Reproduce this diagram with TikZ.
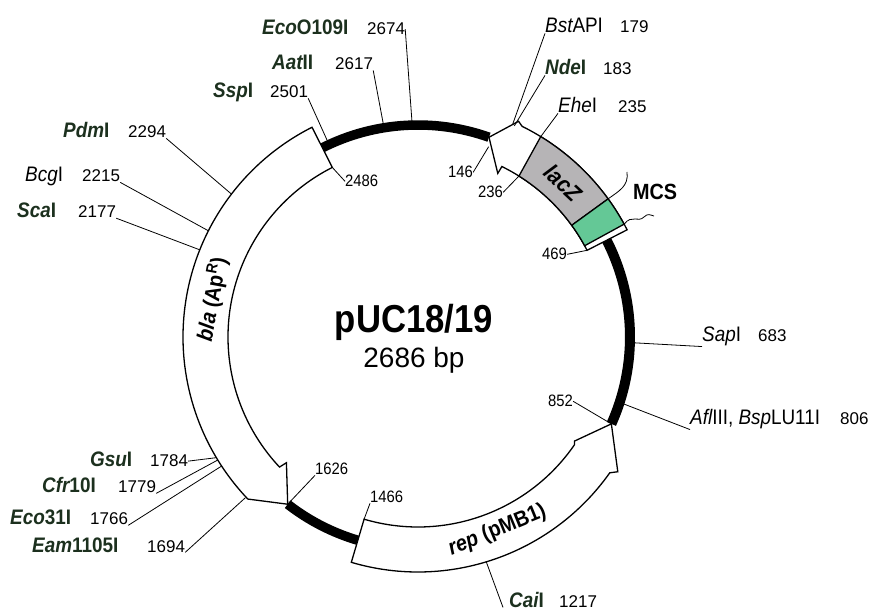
\documentclass[tikz,border=0pt]{standalone}
\usepackage{fontspec}
\setmainfont{Liberation Sans}
\newfontfamily\cond[FakeStretch=0.9]{Liberation Sans}
\newfontfamily\condb[FakeStretch=0.89]{Liberation Sans}
\definecolor{dkgreen}{RGB}{28,48,30}
\definecolor{laczgray}{RGB}{182,180,182}
\definecolor{mcsgreen}{RGB}{100,200,150}
\newcommand\bnm[2]{\textcolor{dkgreen}{\bfseries{\itshape #1}#2}}
\newcommand\rnm[2]{{\itshape #1}#2}
\begin{document}
\begin{tikzpicture}[x=1pt,y=1pt,
  declare function={ang(\p)=90-\p/2686*360; px(\x)=\x-418; py(\y)=337-\y;},
  ename/.style={font=\cond\fontsize{21}{21}\selectfont, anchor=base west, inner sep=0pt},
  enum/.style={font=\fontsize{17}{17}\selectfont, anchor=base west, inner sep=0pt},
  posl/.style={font=\cond\fontsize{16.5}{16.5}\selectfont, anchor=base west, inner sep=0pt},
  lead/.style={line width=0.8pt},
  band/.style={draw, line width=1.3pt, fill=white, line join=miter},
  bb/.style={line width=9.5pt},
  genelab/.style={font=\cond\bfseries\fontsize{22}{22}\selectfont, inner sep=0pt},
]
\useasboundingbox (-418,337) rectangle (455,-278);
\fill[white] (-418,337) rectangle (455,-278);
\def\Rb{212}\def\Ri{190}\def\Ro{235}
\pgfmathsetmacro\tA{ang(146)}
\pgfmathsetmacro\tB{ang(469)}
\pgfmathsetmacro\tC{ang(852)}
\pgfmathsetmacro\tD{ang(1466)}
\pgfmathsetmacro\tDD{ang(1466)+360}
\pgfmathsetmacro\tE{ang(1626)+360}
\pgfmathsetmacro\tF{ang(2486)+360}
\pgfmathsetmacro\tG{ang(235)}
% backbone
\draw[bb] (\tA:\Rb) arc[start angle=\tA, end angle=\tF, radius=212pt];
\draw[bb, line width=10pt] (\tC:\Rb) arc[start angle=\tC, end angle=\tB, radius=212pt];
\draw[bb] (\tE:\Rb) arc[start angle=\tE, end angle=\tDD, radius=212pt];
% bla arrow
\draw[band] (\tF:\Ro) arc[start angle=\tF, end angle=223.6, radius=235pt]
  -- (\tE:\Rb) -- (223.7:182) -- (223.2:\Ri)
  arc[start angle=223.2, end angle=\tF, radius=190pt] -- cycle;
% rep arrow
\draw[band] (\tD:\Ro) arc[start angle=\tD, end angle=-35.3, radius=235pt]
  -- (-34.0:241) -- (\tC:\Rb) -- (-33.6:188) -- (-34.6:\Ri)
  arc[start angle=-34.6, end angle=\tD, radius=190pt] -- cycle;
% lacZ
\draw[band] (\tA:\Rb) -- (65.0:238) -- (63.7:\Ro)
  arc[start angle=63.7, end angle=\tB, radius=235pt] -- (\tB:\Ri)
  arc[start angle=\tB, end angle=63.8, radius=190pt] -- (64.0:182) -- cycle;
\draw[line width=1.3pt, fill=laczgray] (\tG:\Ro) arc[start angle=\tG, end angle=36, radius=235pt]
  -- (36:\Ri) arc[start angle=36, end angle=57.9, radius=190pt] -- cycle;
\draw[line width=1.3pt, fill=mcsgreen] (36:\Ro) arc[start angle=36, end angle=28.7, radius=235pt]
  -- (28.7:\Ri) arc[start angle=28.7, end angle=36, radius=190pt] -- cycle;
% gene labels
\node[genelab, rotate=79.7] (blalab) at (169.7:209) {{\itshape bla} (Ap\textsuperscript{R})};
\node[genelab, font=\cond\bfseries\fontsize{23}{23}\selectfont, rotate=-43.3] (laclab) at (46.7:212) {\itshape lacZ};
\node[genelab, rotate=22.3] (replab) at (-67.7:209) {{\itshape rep} (pMB1)};
% center
\node[font=\condb\bfseries\fontsize{39}{39}\selectfont, anchor=base, inner sep=0pt] (title) at ({px(414)},{py(333)}) {pUC18/19};
\node[font=\fontsize{28}{28}\selectfont, anchor=base, inner sep=0pt] (size) at ({px(414)},{py(368)}) {2686 bp};
% site coordinates
\coordinate (c2674) at ({ang(2674)}:216);
\coordinate (c2617) at ({ang(2617)}:216);
\coordinate (c2501) at ({ang(2501)}:216);
\coordinate (c2294) at ({ang(2294)}:235);
\coordinate (c2215) at ({ang(2215)}:235);
\coordinate (c2177) at ({ang(2177)}:235);
\coordinate (c1784) at ({ang(1784)}:235);
\coordinate (c1779) at ({ang(1779)}:235);
\coordinate (c1766) at ({ang(1766)}:235);
\coordinate (c1694) at ({ang(1694)}:236);
\coordinate (c179) at ({ang(179)}:233);
\coordinate (c183) at ({ang(183)}:232);
\coordinate (c235) at (\tG:\Ro);
\coordinate (c683) at ({ang(683)}:216);
\coordinate (c806) at ({ang(806)}:216);
\coordinate (c1217) at ({ang(1217)}:235);
\coordinate (k2486) at (\tF:\Ri);
\coordinate (k146) at ({\tA-0.8}:203);
\coordinate (k236) at (57.9:\Ri);
\coordinate (k469) at (\tB:\Ri);
\coordinate (k852) at (\tC:\Rb);
\coordinate (k1626) at (\tE:\Rb);
\coordinate (k1466) at (\tD:\Ri);
% left names
\node[ename] (nEco) at ({px(262)},{py(35)}) {\bnm{Eco}{O109I}};
\node[enum] (n2674) at ({px(367)},{py(35)}) {2674};
\node[ename] (nAat) at ({px(272)},{py(70)}) {\bnm{Aat}{II}};
\node[enum] (n2617) at ({px(335)},{py(70)}) {2617};
\node[ename] (nSsp) at ({px(213)},{py(98)}) {\bnm{Ssp}{I}};
\node[enum] (n2501) at ({px(270)},{py(98)}) {2501};
\node[ename] (nPdm) at ({px(63)},{py(138)}) {\bnm{Pdm}{I}};
\node[enum] (n2294) at ({px(128)},{py(138)}) {2294};
\node[ename] (nBcg) at ({px(25)},{py(182)}) {\rnm{Bcg}{I}};
\node[enum] (n2215) at ({px(82)},{py(182)}) {2215};
\node[ename] (nSca) at ({px(17)},{py(218)}) {\bnm{Sca}{I}};
\node[enum] (n2177) at ({px(78)},{py(218)}) {2177};
\node[ename] (nGsu) at ({px(90)},{py(467)}) {\bnm{Gsu}{I}};
\node[enum] (n1784) at ({px(150)},{py(467)}) {1784};
\node[ename] (nCfr) at ({px(42)},{py(493)}) {\bnm{Cfr}{10I}};
\node[enum] (n1779) at ({px(118)},{py(493)}) {1779};
\node[ename] (nEco31) at ({px(10)},{py(525)}) {\bnm{Eco}{31I}};
\node[enum] (n1766) at ({px(90)},{py(525)}) {1766};
\node[ename] (nEam) at ({px(32)},{py(552)}) {\bnm{Eam}{1105I}};
\node[enum] (n1694) at ({px(147)},{py(552)}) {1694};
% right names
\node[ename] (nBst) at ({px(545)},{py(33)}) {\rnm{Bst}{API}};
\node[enum] (n179) at ({px(620)},{py(33)}) {179};
\node[ename] (nNde) at ({px(545)},{py(75)}) {\bnm{Nde}{I}};
\node[enum] (n183) at ({px(603)},{py(75)}) {183};
\node[ename] (nEhe) at ({px(558)},{py(113)}) {\rnm{Ehe}{I}};
\node[enum] (n235) at ({px(618)},{py(113)}) {235};
\node[ename] (nSap) at ({px(702)},{py(342)}) {\rnm{Sap}{I}};
\node[enum] (n683) at ({px(758)},{py(342)}) {683};
\node[ename] (nAfl) at ({px(690)},{py(425)}) {\rnm{Afl}{III}, \rnm{Bsp}{LU11I}};
\node[enum] (n806) at ({px(840)},{py(425)}) {806};
\node[ename] (nCai) at ({px(509)},{py(607)}) {\bnm{Cai}{I}};
\node[enum] (n1217) at ({px(559)},{py(607)}) {1217};
\node[ename, font=\cond\bfseries\fontsize{22}{22}\selectfont] (nMCS) at ({px(633)},{py(200)}) {MCS};
% inner position labels
\node[posl] (l2486) at ({px(345)},{py(187)}) {2486};
\node[posl] (l146) at ({px(448)},{py(178)}) {146};
\node[posl] (l236) at ({px(478)},{py(198)}) {236};
\node[posl] (l469) at ({px(542)},{py(260)}) {469};
\node[posl] (l852) at ({px(548)},{py(407)}) {852};
\node[posl] (l1626) at ({px(315)},{py(475)}) {1626};
\node[posl] (l1466) at ({px(370)},{py(503)}) {1466};
% leaders
\draw[lead] (n2674.east) -- (c2674);
\draw[lead] (n2617.south east) -- (c2617);
\draw[lead] (n2501.south east) -- (c2501);
\draw[lead] (n2294.south east) -- (c2294);
\draw[lead] (n2215.south east) -- (c2215);
\draw[lead] (n2177.south east) -- (c2177);
\draw[lead] (n1784.east) -- (c1784);
\draw[lead] (n1779.south east) -- (c1779);
\draw[lead] (n1766.south east) -- (c1766);
\draw[lead] (n1694.south east) -- (c1694);
\draw[lead] (nBst.south west) -- (c179);
\draw[lead] (nNde.south west) -- (c183);
\draw[lead] (nEhe.south west) -- (c235);
\draw[lead] (c683) -- (nSap.south west);
\draw[lead] (c806) -- (nAfl.south west);
\draw[lead] (c1217) -- ([xshift=-6pt]nCai.south west);
\draw[lead] (k2486) -- (l2486.west);
\draw[lead] (l146.east) -- (k146);
\draw[lead] (l236.east) -- (k236);
\draw[lead] (l469.east) -- (k469);
\draw[lead] (l852.east) -- (k852);
\draw[lead] (l1626.south west) -- (k1626);
\draw[lead] (k1466) -- (l1466.south west);
% MCS squiggles
\coordinate (m1) at (36:\Ro);
\coordinate (m1e) at ({px(627)},{py(172)});
\coordinate (m2) at (28.7:\Ro);
\coordinate (m2e) at ({px(654)},{py(216)});
\draw[lead] (m1) .. controls ({px(619)},{py(191)}) and ({px(629)},{py(186)}) .. (m1e);
\draw[lead] (m2) .. controls ({px(632)},{py(214)}) and ({px(638)},{py(223)}) .. ({px(644)},{py(217)})
  .. controls ({px(648)},{py(213)}) and ({px(650)},{py(215)}) .. (m2e);
\end{tikzpicture}
\end{document}
